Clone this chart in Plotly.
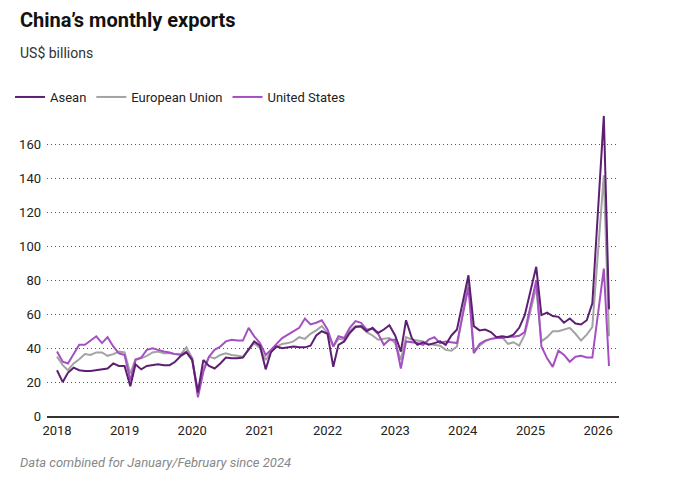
import pandas as pd
import plotly.graph_objects as go

# months: Jan 2018 - Dec 2023 monthly, from 2024 Jan/Feb combined (plotted at Feb)
months_monthly = pd.date_range("2018-01-01", "2023-12-01", freq="MS")
months_combined = [d for d in pd.date_range("2024-02-01", "2026-03-01", freq="MS") if d.month != 1]
months = list(months_monthly) + months_combined

asean = [
    27, 20, 25.5, 28.5, 27, 26.5, 26.5, 27, 27.5, 28, 31, 29.5,        # 2018
    29.5, 17.5, 30.5, 27.5, 29.5, 30, 30.5, 30, 30, 32, 35.5, 37.5,    # 2019
    33, 14, 33, 29.5, 28, 31, 34.5, 34, 34, 34.5, 39, 44,              # 2020
    41.5, 27.5, 37.5, 41, 40, 40.5, 41, 40.5, 40.5, 41.5, 47.5, 50,    # 2021
    48.5, 29, 42, 44, 49, 52.5, 53, 50, 52, 49, 51, 53.5,              # 2022
    47.5, 38, 56.5, 46, 42, 43.5, 42, 43, 44, 42, 47.5, 51,            # 2023
    83, 53, 50.5, 51, 49.5, 46.5, 47, 46.5, 48, 52, 59.5,              # 2024 (Feb-Dec)
    88, 59.5, 61, 59, 58.5, 55, 57.5, 54.5, 54, 56.5, 66.5,            # 2025 (Feb-Dec)
    177, 63,                                                           # 2026 (Feb-Mar)
]

eu = [
    35, 30, 27, 31, 33.5, 36.5, 36, 37.5, 37.5, 35.5, 36.5, 38,
    37.5, 25, 33.5, 34, 35.5, 37.5, 38, 37, 37, 36.5, 36.5, 40.5,
    34, 14, 28, 35, 34, 36, 37, 36, 35.5, 35, 39, 43,
    40, 33, 38, 41, 42.5, 43, 44, 46.5, 45.5, 48.5, 50.5, 53,
    49, 41, 45.5, 45, 50, 53, 52.5, 49.5, 47.5, 45, 45.5, 46,
    43, 33, 46.5, 45, 44.5, 44, 42.5, 42, 41.5, 39, 38.5, 41,
    80, 37.5, 41.5, 44, 45.5, 46, 46.5, 42.5, 43.5, 41.5, 48,
    76, 44, 46.5, 50, 50, 51, 52, 48.5, 44.5, 48, 52.5,
    142, 47,
]

us = [
    38, 32, 31, 36.5, 42, 42, 44.5, 47, 43, 46.5, 41, 37,
    36, 21, 33, 34.5, 39, 40, 39, 38, 37.5, 36.5, 36, 38,
    34, 11, 26, 35, 39, 41, 44, 45, 44.5, 44.5, 52, 47,
    43, 36, 39, 42.5, 46, 48, 50, 52, 57.5, 54, 55, 56.5,
    51, 41, 47, 46, 52, 56, 55, 51, 51.5, 48.5, 42, 45,
    45, 28, 44, 43.5, 43, 42, 45, 46.5, 43, 44, 43.5, 43,
    76, 37, 42.5, 44.5, 45.5, 46, 46, 46.8, 46.8, 47.3, 49.5,
    80, 41, 34, 29, 38.5, 36, 32, 35, 35.5, 34.5, 34.5,
    87, 29.5,
]

year_ticks = [f"{y}-01-01" for y in range(2018, 2027)]
year_labels = [str(y) for y in range(2018, 2027)]
y_ticks = list(range(0, 161, 20))

c_asean = "#5c1f72"
c_eu = "#a3a3a3"
c_us = "#a64fc3"

# page body has an 8px margin, so the figure is a bit smaller and everything shifts by 8
OFF = 8
W, H = 683 - OFF, 477 - OFF
L, R, T, B = 47 - OFF, 64, 110 - OFF, 61

def px(x):
    return (x - OFF - L) / (W - L - R)

def py(y):
    return (H - B - (y - OFF)) / (H - T - B)

fig = go.Figure()
# draw grey first so purples sit on top; legend order via legendrank
fig.add_trace(go.Scatter(x=months, y=eu, name="European Union", mode="lines",
                         line=dict(color=c_eu, width=2), legendrank=2))
fig.add_trace(go.Scatter(x=months, y=us, name="United States", mode="lines",
                         line=dict(color=c_us, width=2), legendrank=3))
fig.add_trace(go.Scatter(x=months, y=asean, name="Asean", mode="lines",
                         line=dict(color=c_asean, width=2), legendrank=1))

fig.update_xaxes(range=["2017-11-08", "2026-04-24"], tickvals=year_ticks, ticktext=year_labels,
                 showgrid=False, showline=True, linecolor="#333", linewidth=1.5,
                 ticks="", ticklabelstandoff=2, tickfont=dict(size=13, color="#222"))
fig.update_yaxes(range=[0, 180.5], tickvals=y_ticks, showgrid=True, gridcolor="#555",
                 gridwidth=1, griddash="1px,3px", zeroline=False, showline=False,
                 ticks="", ticklabelstandoff=5, tickfont=dict(size=13, color="#222"))

fig.update_layout(
    width=W, height=H,
    margin=dict(l=L, r=R, t=T, b=B, autoexpand=False),
    paper_bgcolor="white", plot_bgcolor="white",
    font=dict(family="Roboto", color="#222"),
    showlegend=True,
    legend=dict(orientation="h", x=px(10), y=py(82), xanchor="left", yanchor="top",
                font=dict(size=13, color="#222"), itemwidth=30, tracegroupgap=0),
    annotations=[
        dict(text="<b>China’s monthly exports</b>", x=px(18), y=py(20), xref="paper", yref="paper",
             xanchor="left", yanchor="middle", showarrow=False, font=dict(size=20, color="#111")),
        dict(text="US$ billions", x=px(18), y=py(53), xref="paper", yref="paper",
             xanchor="left", yanchor="middle", showarrow=False, font=dict(size=14, color="#333")),
        dict(text="<i>Data combined for January/February since 2024</i>", x=px(18), y=py(463),
             xref="paper", yref="paper", xanchor="left", yanchor="middle", showarrow=False,
             font=dict(size=13, color="#888")),
    ],
)

fig.write_html("out.html")
